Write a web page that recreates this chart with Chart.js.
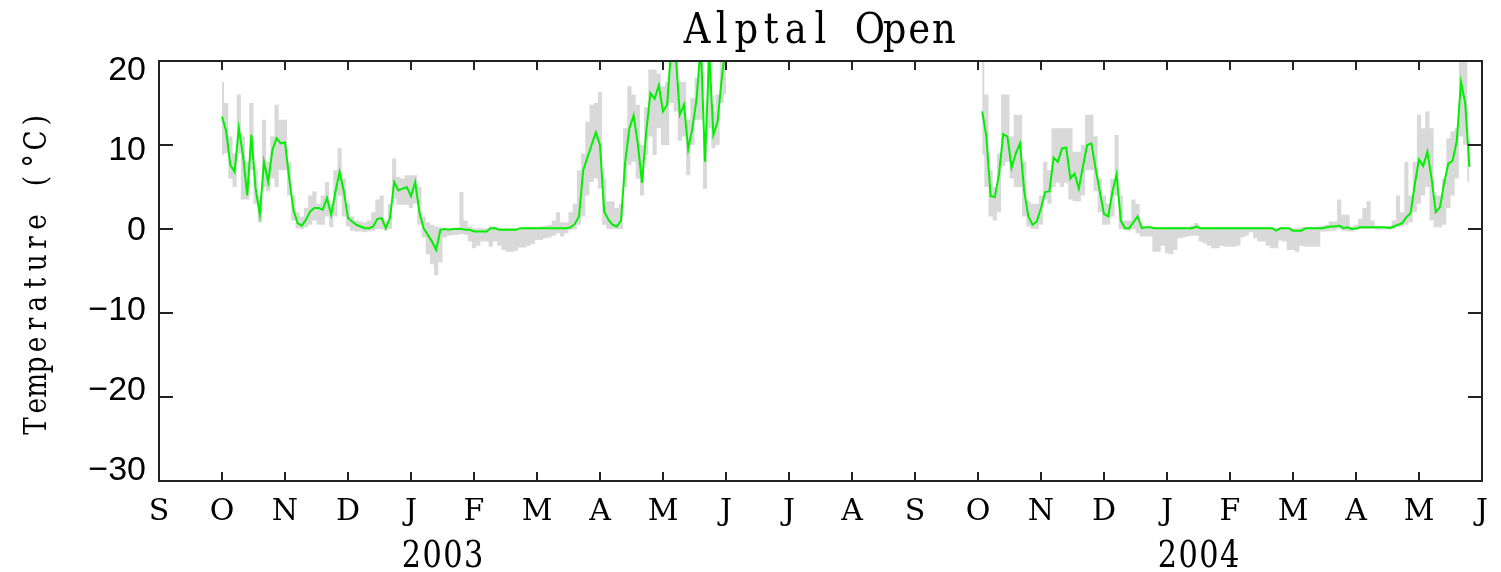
<!DOCTYPE html>
<html>
<head>
<meta charset="utf-8">
<title>Alptal Open</title>
<script src="https://cdn.jsdelivr.net/npm/chart.js@4.4.1/dist/chart.umd.min.js"></script>
<style>
  body { margin: 0; background: #fff; }
  #wrap { width: 1501px; height: 572px; }
</style>
</head>
<body>
<div id="wrap"><canvas id="myChart" width="1501" height="572"></canvas></div>
<script>
// x axis is in months since 1 Sep 2002, one equal step per month
const monthLetters = ['S', 'O', 'N', 'D', 'J', 'F', 'M', 'A', 'M', 'J', 'J', 'A',
                      'S', 'O', 'N', 'D', 'J', 'F', 'M', 'A', 'M', 'J'];
const yTicks = [-30, -20, -10, 0, 10, 20];
const yearLabels = ['2003', '2004'];
const yearAt = [4.5, 16.5];          // mid January

const STEP = 1 / 15;                 // about two days between samples
const start1 = 1;                    // 1 Oct 2002
const start2 = 13 + STEP;            // early Oct 2003

// winter 2002/03: mean, max and min temperature (°C)
const mean1 = [
  13.4, 11.6, 7.6, 6.8, 12.0, 8.8, 4.0, 11.2, 4.8, 1.7,
  8.0, 5.6, 9.4, 10.8, 10.2, 10.3, 6.0, 2.3, 0.7, 0.4,
  1.1, 2.1, 2.5, 2.5, 2.3, 3.7, 1.7, 4.4, 6.8, 4.5,
  1.3, 0.9, 0.5, 0.3, 0.1, 0.1, 0.3, 1.2, 1.3, 0.1,
  1.3, 5.6, 4.6, 4.8, 5.0, 3.9, 5.6, 2.0, 0.1, -0.7,
  -1.5, -2.5, -0.1, 0.0, -0.1, 0.0, 0.0, 0.0, -0.1, -0.1,
  -0.3, -0.3, -0.3, -0.3, 0.1, 0.1, -0.1, -0.1, -0.1, -0.1,
  -0.1, 0.1, 0.1, 0.1, 0.1, 0.1, 0.1, 0.1, 0.1, 0.1,
  0.1, 0.1, 0.1, 0.2, 0.6, 1.5, 7.0, 8.5, 10.0, 11.5,
  10.0, 2.1, 1.1, 0.5, 0.3, 1.0, 8.0, 12.0, 13.5, 10.2,
  5.5, 11.5, 16.2, 15.5, 17.1, 14.0, 14.8, 22, 21, 13.6,
  14.8, 9.5, 12.0, 15.5, 22, 8.0, 21, 11.2, 12.8, 18,
  22
];
const max1 = [
  17.5, 15, 11, 9, 16, 11, 8, 15, 7, 4,
  13, 8, 11, 14.8, 13, 13, 8, 4, 2, 1.5,
  2.5, 4, 4.5, 3, 4, 5.6, 3, 7, 9.6, 6,
  3, 1.5, 1, 0.9, 0.8, 1, 2, 3.5, 4, 1,
  3, 8.4, 6.2, 6, 6.4, 6.4, 6.4, 5, 1.5, 0.8,
  0.5, 0.3, 0.2, 0.1, 0.1, 0.1, 0.2, 4.4, 1, 0.3,
  0.1, 0.1, 0.1, 0.1, 0.3, 0.3, 0.1, 0.1, 0.1, 0.1,
  0.1, 0.1, 0.2, 0.2, 0.2, 0.2, 0.3, 0.4, 0.5, 1,
  2, 0.8, 0.8, 2, 3, 7, 9, 12.8, 14.8, 15,
  16.3, 6, 3.3, 3.3, 2.5, 3, 12, 17, 16, 14.8,
  10, 14.5, 19, 19, 18.5, 17, 17.5, 24, 24, 17.5,
  17.5, 13, 15.6, 18, 24, 11, 24, 14, 16, 21,
  24
];
const min1 = [
  8.8, 9, 6, 5, 9, 3.5, 3.5, 7, 3, 0.8,
  5, 4.5, 6, 5, 7, 7, 4, 1, 0.1, 0,
  0.2, 0.5, 1, 0.5, 0.5, 1.5, 0.2, 1.5, 4, 1.5,
  0.3, -0.2, -0.3, -0.3, -0.4, -0.3, -0.2, 0, 0, -0.2,
  0, 3.6, 2.9, 2.9, 2.9, 2.5, 3, 0.5, -1, -3,
  -4.2, -5.5, -4, -1, -0.8, -0.7, -0.7, -0.6, -0.7, -1.5,
  -2.3, -2, -1.5, -1.5, -2.1, -1.5, -2, -2.5, -2.7, -2.7,
  -2.6, -2.2, -2.2, -2, -1.8, -1.3, -1.3, -1.1, -1.0, -0.8,
  -0.5, -0.9, -0.5, -0.1, 0, 0.5, 1.5, 4, 5.6, 6,
  4.8, 0.5, 0, 0, 0, 0, 5, 7.6, 8, 6,
  4, 8.8, 11, 8.8, 12, 10, 10, 15, 14, 10.5,
  11, 6.4, 10, 13, 13, 4.8, 12, 9.6, 10, 15,
  16
];

// winter 2003/04
const mean2 = [
  14, 11, 3.9, 3.8, 6.5, 11.3, 11, 7.3, 9, 10.2,
  4.5, 1.5, 0.5, 0.9, 2.5, 4.4, 4.5, 8.5, 8, 9.6,
  9.7, 6, 6.6, 4.8, 7.5, 10, 10.2, 7.2, 4.5, 1.8,
  1.5, 4.4, 6.5, 1, 0.1, 0.1, 0.8, 1.5, 0.1, 0.2,
  0.2, 0.1, 0.1, 0.1, 0.1, 0.1, 0.1, 0.1, 0.1, 0.1,
  0.1, 0.3, 0.1, 0.1, 0.1, 0.1, 0.1, 0.1, 0.1, 0.1,
  0.1, 0.1, 0.1, 0.1, 0.1, 0.1, 0.1, 0.1, 0.1, 0.1,
  -0.2, 0.1, 0.1, 0.1, -0.2, -0.2, -0.2, 0.1, 0.1, 0.1,
  0.1, 0.1, 0.2, 0.3, 0.3, 0.4, 0.1, 0.2, 0, 0.05,
  0.2, 0.2, 0.2, 0.2, 0.2, 0.2, 0.2, 0.1, 0.3, 0.5,
  0.7, 1.4, 1.9, 5.3, 8.3, 7.5, 9.2, 6, 2, 2.6,
  5.5, 7.8, 8.1, 10.5, 17.5, 15, 7.4
];
const max2 = [
  20, 16, 7, 5, 9, 16, 16, 11, 13.6, 13.6,
  8, 3.3, 3, 3, 4, 8, 7, 12, 12, 12,
  12, 12, 9.2, 9.2, 10, 13.6, 13.6, 11, 6, 4,
  3, 6, 11.2, 4, 1, 1, 3.5, 3, 0.5, 0.3,
  0.3, 0.2, 0.2, 0.2, 0.2, 0.2, 0.2, 0.2, 0.2, 0.2,
  0.4, 0.7, 0.2, 0.2, 0.2, 0.2, 0.2, 0.2, 0.2, 0.2,
  0.2, 0.2, 0.2, 0.2, 0.2, 0.2, 0.2, 0.2, 0.2, 0.2,
  0.1, 0.2, 0.2, 0.1, 0.1, 0.1, 0.2, 0.2, 0.2, 0.2,
  0.3, 0.4, 0.5, 0.9, 0.9, 3.5, 1.7, 1.7, 0.3, 0.5,
  1.2, 2.5, 3.3, 1, 0.4, 0.3, 0.3, 0.4, 1, 4,
  2, 8, 4, 8, 13.6, 12, 14, 12, 4, 4,
  6, 10.8, 11.6, 12, 21, 21, 10
];
const min2 = [
  8.8, 5, 1.5, 1, 2, 7.5, 8, 6, 5, 5,
  1.5, 0.3, 0, 0, 0.5, 3.5, 3, 5, 5.5, 5,
  5.5, 3.5, 3.3, 3.3, 4, 7, 7, 4.5, 2, 0.5,
  0.5, 1.5, 4, 0, -0.1, -0.2, 0, -0.5, -0.9, -0.9,
  -0.9, -2.7, -2.7, -2.0, -2.9, -3, -2.5, -1.1, -1.0, -0.9,
  -0.8, -0.8, -1.5, -1.7, -2.0, -2.3, -2.3, -2.0, -2.1, -2.1,
  -2.1, -2.0, -1.0, -0.8, -0.4, -1.1, -1.5, -1.5, -2.0, -2.3,
  -2.3, -1.4, -1.5, -2.5, -2.5, -2.7, -2.0, -2.1, -2.1, -2.1,
  -2.1, -0.3, -0.3, -0.2, -0.2, 0, -0.2, -0.3, -0.3, -0.1,
  0, 0, 0, 0, -0.1, -0.1, -0.1, 0, 0, 0.2,
  0.3, 0.5, 0.8, 2, 3, 4, 5, 1, 0.2, 0.2,
  0.5, 2.5, 4, 6, 11, 10, 5.6
];

const GREEN = '#00f000';
const GRAY = '#d9d9d9';
const SERIF = '"DejaVu Serif"';

function series(start, vals) {
  return vals.map((v, k) => ({ x: start + k * STEP, y: v }));
}

function meanLine(start, vals) {
  return {
    data: series(start, vals),
    borderColor: GREEN,
    borderWidth: 2,
    pointRadius: 0,
    fill: false,
    clip: 0,
    order: 0
  };
}

// min-max range, filled from the max line down to the min line below it
function rangeEdge(start, vals, fillToNext) {
  return {
    data: series(start, vals),
    borderWidth: 0,
    borderColor: 'rgba(0,0,0,0)',
    backgroundColor: GRAY,
    pointRadius: 0,
    stepped: 'middle',
    fill: fillToNext ? '+1' : false,
    clip: 0,
    order: 1
  };
}

// letters laid out on a fixed pitch, like a plotter font
function drawSpaced(ctx, text, cx, y, pitch, sx) {
  const x0 = cx - pitch * text.length / 2;
  for (let k = 0; k < text.length; k++) {
    ctx.save();
    ctx.translate(x0 + pitch * (k + 0.5), y);
    ctx.scale(sx, 1);
    ctx.fillText(text[k], 0, 0);
    ctx.restore();
  }
}

const framePlugin = {
  id: 'frame',
  afterDraw(chart) {
    const { ctx, chartArea: a, scales } = chart;
    const x = scales.x, y = scales.y;
    ctx.save();
    ctx.strokeStyle = '#222';
    ctx.lineWidth = 2;
    ctx.strokeRect(a.left, a.top, a.right - a.left, a.bottom - a.top);

    // inward tick marks on all four sides
    ctx.beginPath();
    monthLetters.forEach((_, k) => {
      if (k <= x.min || k >= x.max) return;
      const px = Math.round(x.getPixelForValue(k));
      ctx.moveTo(px, a.bottom); ctx.lineTo(px, a.bottom - 9);
      ctx.moveTo(px, a.top); ctx.lineTo(px, a.top + 9);
    });
    yTicks.forEach(v => {
      if (v <= y.min || v >= y.max) return;
      const py = Math.round(y.getPixelForValue(v));
      ctx.moveTo(a.left, py); ctx.lineTo(a.left + 14, py);
      ctx.moveTo(a.right, py); ctx.lineTo(a.right - 14, py);
    });
    ctx.stroke();

    ctx.fillStyle = '#000';
    ctx.textAlign = 'center';
    ctx.textBaseline = 'alphabetic';

    // title
    ctx.font = '42px ' + SERIF;
    drawSpaced(ctx, 'Alptal Open', (a.left + a.right) / 2, 43, 24.7, 0.88);

    // year under the month letters
    ctx.font = '37px ' + SERIF;
    yearLabels.forEach((s, k) => {
      drawSpaced(ctx, s, x.getPixelForValue(yearAt[k]), 567, 20.8, 0.82);
    });

    // y axis title
    ctx.font = '31px ' + SERIF;
    ctx.save();
    ctx.translate(46, (a.top + a.bottom) / 2 + 2);
    ctx.rotate(-Math.PI / 2);
    drawSpaced(ctx, 'Temperature (\u00B0C)', 0, 0, 20.4, 0.85);
    ctx.restore();

    ctx.restore();
  }
};

const ctx = document.getElementById('myChart');
const myChart = new Chart(ctx, {
  type: 'line',
  data: {
    datasets: [
      meanLine(start1, mean1),
      meanLine(start2, mean2),
      rangeEdge(start1, max1, true),
      rangeEdge(start1, min1, false),
      rangeEdge(start2, max2, true),
      rangeEdge(start2, min2, false)
    ]
  },
  options: {
    responsive: false,
    devicePixelRatio: 1,
    animation: false,
    events: [],
    layout: { padding: { top: 61, right: 14, left: 0, bottom: 0 } },
    plugins: {
      legend: { display: false },
      title: { display: false },
      tooltip: { enabled: false }
    },
    scales: {
      x: {
        type: 'linear',
        min: 0,
        max: 21,
        afterBuildTicks: s => { s.ticks = monthLetters.map((_, k) => ({ value: k })); },
        afterFit: s => { s.height = 91; },
        grid: { display: false, drawTicks: false },
        border: { display: false },
        ticks: {
          autoSkip: false,
          maxRotation: 0,
          padding: 13,
          color: '#000',
          font: { family: 'DejaVu Serif', size: 30 },
          callback: v => monthLetters[v]
        }
      },
      y: {
        type: 'linear',
        display: false,
        min: -30,
        max: 20
      },
      // label axis: the end labels are pulled slightly inside the frame
      yl: {
        type: 'linear',
        position: 'left',
        min: -31.25,
        max: 21.19,
        afterBuildTicks: s => { s.ticks = yTicks.map(v => ({ value: v })); },
        afterFit: s => { s.width = 159; },
        grid: { display: false, drawTicks: false },
        border: { display: false },
        ticks: {
          autoSkip: false,
          padding: 13,
          color: '#000',
          font: { family: 'Liberation Sans', size: 34 },
          callback: v => (v < 0 ? '\u2212' + Math.abs(v) : String(v))
        }
      }
    }
  },
  plugins: [framePlugin]
});
</script>
</body>
</html>
